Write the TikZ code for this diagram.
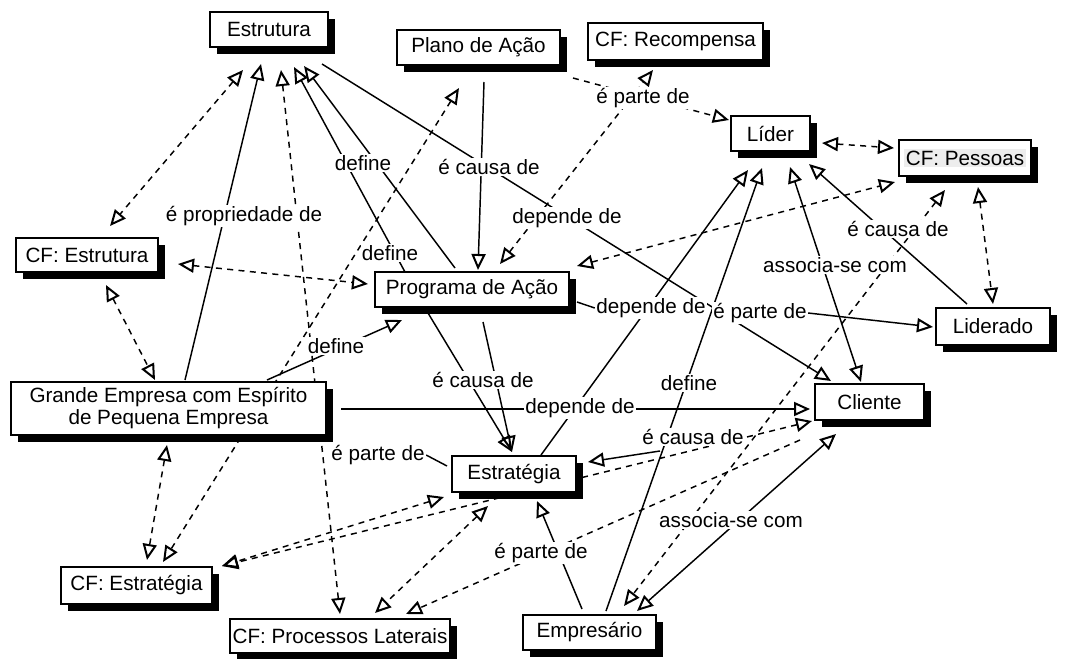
\documentclass[tikz,border=0pt]{standalone}
\usepackage{fontspec}
\setmainfont{Liberation Sans}
\usetikzlibrary{arrows.meta,shadows}
\pgfdeclarelayer{background}
\pgfsetlayers{background,main}

\tikzset{
  concept/.style={draw, line width=0.9pt, fill=white, inner sep=0pt, align=center,
    drop shadow={shadow xshift=5pt, shadow yshift=-5pt, fill=black, opacity=1}},
  phrase/.style={fill=white, inner sep=1pt},
  hd/.tip={Triangle[open, length=12pt, width=10.5pt, line width=1.5pt 0]},
  solidlink/.style={line width=1.1pt},
  crosslink/.style={line width=1.1pt, dash pattern=on 4.5pt off 4pt},
}

\begin{document}
\begin{tikzpicture}[x=0.75pt, y=-0.75pt, font=\fontsize{15.5pt}{16.5pt}\selectfont]
\useasboundingbox (0,0) rectangle (1068,658);

% ---------- concepts ----------
\node[concept, minimum width=88.5pt,  minimum height=26.25pt] (estrutura)  at (269,29.5)   {Estrutura};
\node[concept, minimum width=122.25pt,minimum height=26.25pt] (plano)      at (478.5,47.5) {Plano de Ação};
\node[concept, minimum width=131.25pt,minimum height=27.75pt] (recompensa) at (675.5,41.5) {CF: Recompensa};
\node[concept, minimum width=59.25pt, minimum height=26.25pt] (lider)      at (770.5,133.5) {Líder};
\node[concept, minimum width=99pt,    minimum height=27pt]    (pessoas)    at (965,158)
  {{\setlength{\fboxsep}{1.5pt}\colorbox{black!7}{CF: Pessoas}}};
\node[concept, minimum width=106.5pt, minimum height=25.5pt]  (cfestrutura) at (87,255)    {CF: Estrutura};
\node[concept, minimum width=145.5pt, minimum height=26.25pt] (programa)   at (472,289.5)  {Programa de Ação};
\node[concept, minimum width=85.5pt,  minimum height=27.75pt] (liderado)   at (993,326.5)  {Liderado};
\node[concept, minimum width=236.25pt,minimum height=39.75pt] (grande)     at (168.5,408.5)
  {Grande Empresa com Espírito\\de Pequena Empresa};
\node[concept, minimum width=81.75pt, minimum height=27pt]    (cliente)    at (869.5,402)  {Cliente};
\node[concept, minimum width=93pt,    minimum height=27pt]    (estrategia) at (514,474)    {Estratégia};
\node[concept, minimum width=113.25pt,minimum height=27.75pt] (cfestrategia) at (136.5,585.5) {CF: Estratégia};
\node[concept, minimum width=165pt,   minimum height=25.5pt]  (processos)  at (340,636)    {CF: Processos Laterais};
\node[concept, minimum width=99.75pt, minimum height=26.25pt] (empresario) at (589.5,632.5) {Empresário};

% ---------- linking phrases ----------
\node[phrase] (p-prop)   at (244,216) {é propriedade de};
\node[phrase] (p-def1)   at (363,163) {define};
\node[phrase] (p-causa1) at (489,167) {é causa de};
\node[phrase] (p-parte1) at (643,98)  {é parte de};
\node[phrase] (p-dep1)   at (567,218) {depende de};
\node[phrase] (p-def2)   at (390,253) {define};
\node[phrase] (p-def3)   at (336,346) {define};
\node[phrase] (p-causa2) at (483,380) {é causa de};
\node[phrase] (p-dep2)   at (651,308) {depende de};
\node[phrase] (p-parte2) at (760,313) {é parte de};
\node[phrase] (p-assoc1) at (835,265) {associa-se com};
\node[phrase] (p-causa3) at (898,229) {é causa de};
\node[phrase] (p-dep3)   at (580,408) {depende de};
\node[phrase] (p-def4)   at (689,383) {define};
\node[phrase] (p-causa4) at (693,437) {é causa de};
\node[phrase] (p-parte3) at (378,455) {é parte de};
\node[phrase] (p-assoc2) at (731,520) {associa-se com};
\node[phrase] (p-parte4) at (541,553) {é parte de};

% ---------- connector ends ----------
% Estrutura
\coordinate (estr-t1) at (243,70);
\coordinate (estr-t2) at (261,64);
\coordinate (estr-t3) at (281,70);
\coordinate (estr-t4) at (294,67);
\coordinate (estr-t5) at (304,66);
\coordinate (estr-s1) at (322,64);
% Plano de Ação
\coordinate (plano-s1) at (484,82);
\coordinate (plano-s2) at (573,78);
\coordinate (plano-t1) at (459,88);
% CF: Recompensa
\coordinate (recomp-t1) at (653,70);
% Líder
\coordinate (lider-t1) at (729,120);
\coordinate (lider-t2) at (822,143);
\coordinate (lider-t3) at (748,170);
\coordinate (lider-t4) at (762,168);
\coordinate (lider-t5) at (790,167);
\coordinate (lider-t6) at (809,164);
% CF: Pessoas
\coordinate (pess-t1) at (894,148);
\coordinate (pess-t2) at (895,182);
\coordinate (pess-t3) at (945,190);
\coordinate (pess-t4) at (978,187);
% CF: Estrutura
\coordinate (cfe-t1) at (110,226);
\coordinate (cfe-t2) at (178,264);
\coordinate (cfe-t3) at (106,285);
% Programa de Ação
\coordinate (prog-t1) at (478,270);
\coordinate (prog-t2) at (500,264);
\coordinate (prog-t3) at (577,266);
\coordinate (prog-t4) at (368,284);
\coordinate (prog-t5) at (402,320);
\coordinate (prog-s1) at (405,272);
\coordinate (prog-s2) at (455,268);
\coordinate (prog-s3) at (428,313);
\coordinate (prog-s4) at (483,322);
\coordinate (prog-s5) at (577,302);
% Liderado
\coordinate (lidd-t1) at (933,327);
\coordinate (lidd-t2) at (993,304);
\coordinate (lidd-s1) at (967,304);
% Grande Empresa
\coordinate (gr-s1) at (185,380);
\coordinate (gr-s2) at (267,380);
\coordinate (gr-s3) at (341,409);
\coordinate (gr-t1) at (155,380);
\coordinate (gr-t2) at (167,445);
% Cliente
\coordinate (cli-t1) at (831,381);
\coordinate (cli-t2) at (861,382);
\coordinate (cli-t3) at (810,409);
\coordinate (cli-t4) at (812,421);
\coordinate (cli-t5) at (836,434);
\coordinate (cli-s1) at (800,440);
% Estratégia
\coordinate (estg-t1) at (512,452);
\coordinate (estg-t2) at (588,462);
\coordinate (estg-t3) at (537,501);
\coordinate (estg-t4) at (444,497);
\coordinate (estg-t5) at (488,506);
\coordinate (estg-s1) at (541,455);
\coordinate (estg-e1) at (447,466);
\coordinate (causa-j) at (660,451);
% CF: Estratégia
\coordinate (cfg-t1) at (147,560);
\coordinate (cfg-t2) at (163,562);
\coordinate (cfg-t3) at (222,566);
% CF: Processos Laterais
\coordinate (proc-t1) at (340,614);
\coordinate (proc-t2) at (375,613);
\coordinate (proc-t3) at (406,614);
% Empresário
\coordinate (emp-s1) at (606,611);
\coordinate (emp-s2) at (582,609);
\coordinate (emp-t1) at (624,606);
\coordinate (emp-t2) at (637,611);

% ---------- connectors ----------
\begin{pgfonlayer}{background}
  % propositions
  \draw[solidlink,-hd] (gr-s1) -- (estr-t2);
  \draw[solidlink,-hd] (estr-s1) -- (cli-t1);
  \draw[solidlink,-hd] (prog-s1) -- (estr-t4);
  \draw[solidlink,-hd] (prog-s2) -- (estr-t5);
  \draw[solidlink,-hd] (plano-s1) -- (prog-t1);
  \draw[solidlink,-hd] (prog-s3) -- (estg-t1);
  \draw[solidlink,-hd] (prog-s4) -- (estg-t1);
  \draw[solidlink,-hd] (gr-s2) -- (prog-t5);
  \draw[solidlink,-hd] (gr-s3) -- (cli-t3);
  \draw[solidlink] (p-parte3.east) -- (estg-e1);
  \draw[solidlink,-hd] (estg-s1) -- (lider-t3);
  \draw[solidlink] (prog-s5) -- (p-dep2.west);
  \draw[solidlink,-hd] (emp-s1) -- (lider-t4);
  \draw[solidlink,-hd] (causa-j) -- (estg-t2);
  \draw[solidlink,hd-hd] (lider-t5) -- (cli-t2);
  \draw[solidlink,-hd] (lidd-s1) -- (lider-t6);
  \draw[solidlink,-hd] (p-parte2.east) -- (lidd-t1);
  \draw[solidlink,-hd] (emp-s2) -- (estg-t3);
  \draw[solidlink,hd-hd] (cli-t5) -- (emp-t2);
  % cross links
  \draw[crosslink,hd-hd] (estr-t1) -- (cfe-t1);
  \draw[crosslink,hd-hd] (estr-t3) -- (proc-t1);
  \draw[crosslink,hd-hd] (plano-t1) -- (cfg-t2);
  \draw[crosslink,hd-hd] (gr-t2) -- (cfg-t1);
  \draw[crosslink,hd-hd] (cfe-t3) -- (gr-t1);
  \draw[crosslink,hd-hd] (cfe-t2) -- (prog-t4);
  \draw[crosslink,hd-hd] (prog-t2) -- (recomp-t1);
  \draw[crosslink,-hd] (plano-s2) -- (lider-t1);
  \draw[crosslink,hd-hd] (prog-t3) -- (pess-t2);
  \draw[crosslink,hd-hd] (lider-t2) -- (pess-t1);
  \draw[crosslink,hd-hd] (pess-t4) -- (lidd-t2);
  \draw[crosslink,hd-hd] (pess-t3) -- (emp-t1);
  \draw[crosslink,hd-hd] (cli-t4) -- (cfg-t3);
  \draw[crosslink,hd-hd] (estg-t4) -- (cfg-t3);
  \draw[crosslink,hd-hd] (estg-t5) -- (proc-t2);
  \draw[crosslink,-hd] (cli-s1) -- (proc-t3);
\end{pgfonlayer}
\end{tikzpicture}
\end{document}
